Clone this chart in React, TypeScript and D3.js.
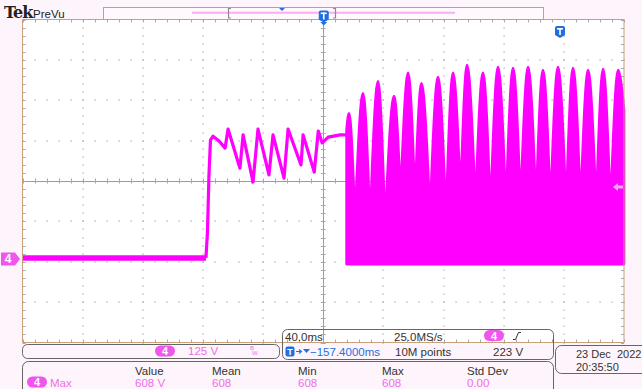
import React from "react";
import * as d3 from "d3";

// screen geometry
const W = 642;
const H = 389;
const plotLeft = 22.5;
const plotRight = 624;
const plotTop = 19.5;
const plotBottom = 342.5;

// scope settings
const timePerDiv = 40; // ms
const voltsPerDiv = 125; // V
const offsetDiv = -1.93; // ground marker position, divisions from center
const triggerLevel = 223; // V

// CH4 before the step (flat at ~0 V)
const baselineTimes = [-200, -78];
const baselineVolts = [3, 3];

// CH4 sawtooth section after the step
const sawTimes = [-78, -77, -76, -75, -73.3, -69.3, -65.3, -63.3, -55.4, -53.3, -46.7, -43.4, -36.1, -33.4, -26.1, -23.4, -14.8, -13.4, -6.0, -3.3, -0.7, 3.3, 11.3, 15.5];
const sawVolts = [3, 83, 260, 368, 380, 365, 343, 402, 281, 384, 238, 402, 260, 384, 250, 402, 291, 384, 269, 396, 359, 377, 384, 384];

// CH4 switching section: envelope peaks and valleys of the pulse train
const pulsePeakTimes = [17.1, 26.4, 36.4, 47.1, 56.4, 65.3, 76.3, 86.3, 95.6, 106.2, 116.2, 126.2, 136.2, 146.1, 156.1, 166.1, 176.1, 186.1, 196.1];
const pulsePeakVolts = [451, 513, 550, 504, 576, 544, 563, 576, 600, 576, 594, 591, 594, 585, 594, 591, 585, 588, 585];
const pulseValleyTimes = [15.5, 21.1, 31.1, 41.1, 51.4, 61.0, 71.0, 81.6, 91.3, 101.2, 111.2, 121.5, 131.2, 141.5, 151.1, 161.5, 171.1, 181.5, 191.0, 200];
const pulseValleyVolts = [400, 120, 111, 105, 192, 189, 136, 130, 192, 167, 145, 161, 167, 167, 158, 161, 161, 161, 151, 461];
const pulseFloor = -16;

// readouts
const measureHeaders = ["Value", "Mean", "Min", "Max", "Std Dev"];
const measureValues = ["608 V", "608", "608", "608", "0.00"];
const measureCols = [135, 212, 298, 382, 467];

const TRACE = "#ff00ff";
const PILL = "#f055ee";
const LIGHT = "#ee6ee8";
const BLUE = "#1f6fe0";
const FRAME = "#c6a07a";
const FONT = "Liberation Sans, Arial, sans-serif";

const x = d3.scaleLinear().domain([-5 * timePerDiv, 5 * timePerDiv]).range([plotLeft, plotRight]);
const y = d3
  .scaleLinear()
  .domain([(-4 - offsetDiv) * voltsPerDiv, (4 - offsetDiv) * voltsPerDiv])
  .range([plotBottom, plotTop]);

type Pt = [number, number];

const line = d3.line<Pt>().x((d) => x(d[0])).y((d) => y(d[1]));

// each hump valley-peak-valley, monotone -> rounded top, sharp valleys
const humpArea = d3
  .area<Pt>()
  .x((d) => x(d[0]))
  .y0(y(pulseFloor))
  .y1((d) => y(d[1]))
  .curve(d3.curveMonotoneX);

function Shield({ cx, top }: { cx: number; top: number }) {
  const w = 10;
  const h = 12;
  const d = `M${cx - w / 2},${top + 2} q0,-2 2,-2 h${w - 4} q2,0 2,2 v${h - 5} l${-w / 2},3 l${-w / 2},-3 z`;
  return (
    <g>
      <path d={d} fill={BLUE} />
      <rect x={cx - 3} y={top + 2} width={6} height={1.6} fill="#fff" />
      <rect x={cx - 0.8} y={top + 2} width={1.6} height={7} fill="#fff" />
    </g>
  );
}

function Pill({ cx, cy, w = 20 }: { cx: number; cy: number; w?: number }) {
  return (
    <g>
      <rect x={cx - w / 2} y={cy - 5.5} width={w} height={11} rx={5.5} fill={PILL} />
      <text x={cx} y={cy + 4} textAnchor="middle" fontSize={11} fontWeight="bold" fill="#fff" fontFamily={FONT}>
        4
      </text>
    </g>
  );
}

export default function App() {
  const vMajor = d3.range(-5, 6).map((i) => i * timePerDiv);
  const hMajor = d3.range(-4, 5).map((i) => (i - offsetDiv) * voltsPerDiv);
  const vMinor = d3.range(-200, 200.01, timePerDiv / 5);
  const hMinor = d3.range(0, 41).map((i) => (i / 5 - 4 - offsetDiv) * voltsPerDiv);
  const centerT = 0;
  const centerV = -offsetDiv * voltsPerDiv;

  const dots: JSX.Element[] = [];
  vMajor.slice(1, -1).forEach((t, i) => {
    if (t === centerT) return;
    hMinor.forEach((v, j) =>
      dots.push(<rect key={`v${i}-${j}`} x={Math.round(x(t)) - 0.5} y={Math.round(y(v)) - 0.5} width={1.2} height={1.2} fill="#a4a4a4" />)
    );
  });
  hMajor.slice(1, -1).forEach((v, i) => {
    if (Math.abs(v - centerV) < 1e-6) return;
    vMinor.forEach((t, j) =>
      dots.push(<rect key={`h${i}-${j}`} x={Math.round(x(t)) - 0.5} y={Math.round(y(v)) - 0.5} width={1.2} height={1.2} fill="#a4a4a4" />)
    );
  });

  const ticks: JSX.Element[] = [];
  vMinor.forEach((t, i) => {
    const xx = Math.round(x(t)) + 0.5;
    ticks.push(<line key={`tt${i}`} x1={xx} x2={xx} y1={plotTop} y2={plotTop + 3} />);
    ticks.push(<line key={`tb${i}`} x1={xx} x2={xx} y1={plotBottom - 3} y2={plotBottom} />);
    ticks.push(<line key={`tc${i}`} x1={xx} x2={xx} y1={y(centerV) - 2.5} y2={y(centerV) + 2.5} />);
  });
  hMinor.forEach((v, i) => {
    const yy = Math.round(y(v)) + 0.5;
    ticks.push(<line key={`tl${i}`} x1={plotLeft} x2={plotLeft + 3} y1={yy} y2={yy} />);
    ticks.push(<line key={`tr${i}`} x1={plotRight - 3} x2={plotRight} y1={yy} y2={yy} />);
    ticks.push(<line key={`tm${i}`} x1={x(centerT) - 2.5} x2={x(centerT) + 2.5} y1={yy} y2={yy} />);
  });

  const basePts: Pt[] = baselineTimes.map((t, i) => [t, baselineVolts[i]]);
  const sawPts: Pt[] = sawTimes.map((t, i) => [t, sawVolts[i]]);
  const pulsePath = pulsePeakTimes
    .map((t, i) =>
      humpArea([
        [pulseValleyTimes[i], pulseValleyVolts[i]],
        [t, pulsePeakVolts[i]],
        [pulseValleyTimes[i + 1], pulseValleyVolts[i + 1]],
      ])
    )
    .join(" ");

  const gy = y(0);
  const ty = y(triggerLevel);

  return (
    <svg width={W} height={H} style={{ position: "fixed", left: 0, top: 0 }} fontFamily={FONT}>
      <rect width={W} height={H} fill="#fdf5fb" />
      <rect x={plotLeft} y={plotTop} width={plotRight - plotLeft} height={plotBottom - plotTop} fill="#fff" />

      {/* header */}
      <text x={4} y={18} fontFamily="DejaVu Serif, serif" fontWeight="bold" fontSize={16} fill="#222" letterSpacing={-1}>
        Tek
      </text>
      <text x={33} y={18} fontSize={11.5} fill="#222">
        PreVu
      </text>
      <rect x={103.5} y={7.5} width={440} height={12} fill="#fff8fd" stroke={FRAME} />
      <line x1={192} x2={455} y1={12.7} y2={12.7} stroke="#f9aef4" strokeWidth={2} />
      <path d="M231,8.5 h-2.5 v9.5 h2.5 M333,8.5 h2.5 v9.5 h-2.5" fill="none" stroke="#8a8a96" strokeWidth={1.2} />
      <path d="M279,8 h6 l-3,3 z" fill={BLUE} />

      {/* grid */}
      <g>{dots}</g>
      <line x1={plotLeft} x2={plotRight} y1={Math.round(y(centerV)) + 0.5} y2={Math.round(y(centerV)) + 0.5} stroke="#9a9aa8" />
      <line x1={Math.round(x(centerT)) + 0.5} x2={Math.round(x(centerT)) + 0.5} y1={plotTop} y2={plotBottom} stroke="#9a9aa8" />
      <g stroke="#a8a8b0" strokeWidth={1}>{ticks}</g>

      {/* waveform */}
      <path d={line(basePts) ?? ""} fill="none" stroke={TRACE} strokeWidth={5.5} />
      <path d={line(sawPts) ?? ""} fill="none" stroke={TRACE} strokeWidth={3.2} strokeLinejoin="round" />
      <path d={pulsePath} fill={TRACE} stroke={TRACE} strokeWidth={2.6} strokeLinejoin="round" />

      {/* frame */}
      <path d={`M${plotLeft},${plotBottom} V${plotTop} H${plotRight} V${plotBottom} H${plotLeft}`} fill="none" stroke={FRAME} />

      {/* markers */}
      <Shield cx={x(centerT) + 0.5} top={10.5} />
      <path d={`M${x(centerT) - 3},${22} h7 l-3.5,3.5 z`} fill={BLUE} />
      <Shield cx={560} top={26} />
      <path d={`M1,${gy - 6.5} h14 l5,6.5 l-5,6.5 h-14 z`} fill={PILL} />
      <text x={8} y={gy + 4.5} textAnchor="middle" fontSize={12} fontWeight="bold" fill="#fff">
        4
      </text>
      <path d={`M613,${ty} l5,-4 v2.5 h5 v3 h-5 v2.5 z`} fill="#f7a8f2" />

      {/* vertical setting box */}
      <rect x={22.5} y={344.5} width={257} height={14} rx={5} fill="none" stroke="#666" />
      <Pill cx={165} cy={351} />
      <text x={188} y={355} fontSize={11.5} fill={LIGHT}>
        125 V
      </text>
      <text x={250} y={350} fontSize={6} fill={LIGHT}>B</text>
      <text x={252} y={355} fontSize={6} fill={LIGHT}>W</text>

      {/* horizontal / trigger box */}
      <rect x={282.5} y={329.5} width={271} height={30} rx={5} fill="none" stroke="#666" />
      <text x={285} y={341} fontSize={11.5} fill="#333">40.0ms</text>
      <text x={394} y={341} fontSize={11.5} fill="#333">25.0MS/s</text>
      <Pill cx={494} cy={335.5} />
      <path d="M513,339.5 h2.5 l3,-7 h2.5" fill="none" stroke="#333" strokeWidth={1} />
      <rect x={285.5} y={346.5} width={9} height={10} rx={2} fill={BLUE} />
      <text x={290} y={355} textAnchor="middle" fontSize={9} fontWeight="bold" fill="#fff">T</text>
      <path d="M296,351.5 h5 M299,349.5 l2.5,2 l-2.5,2" fill="none" stroke={BLUE} strokeWidth={1.1} />
      <path d="M303,349 h7 l-3.5,4 z" fill={BLUE} />
      <text x={310} y={356} fontSize={11.5} fill={BLUE}>−157.4000ms</text>
      <text x={395} y={356} fontSize={11.5} fill="#333">10M points</text>
      <text x={493} y={356} fontSize={11.5} fill="#333">223 V</text>

      {/* date box */}
      <rect x={555.5} y={345.5} width={95} height={28} rx={6} fill="none" stroke="#666" />
      <text x={576} y={357.5} fontSize={11} fill="#333" xmlSpace="preserve">23 Dec  2022</text>
      <text x={576} y={371} fontSize={11} fill="#333">20:35:50</text>

      {/* measurements */}
      <rect x={22.5} y={361.5} width={531} height={40} rx={6} fill="none" stroke="#666" />
      {measureHeaders.map((h, i) => (
        <text key={h} x={measureCols[i]} y={375} fontSize={11.5} fill="#333">
          {h}
        </text>
      ))}
      <Pill cx={37} cy={382} />
      <text x={50} y={387} fontSize={11.5} fill={LIGHT}>Max</text>
      {measureValues.map((v, i) => (
        <text key={i} x={measureCols[i]} y={387} fontSize={11.5} fill={LIGHT}>
          {v}
        </text>
      ))}
    </svg>
  );
}
